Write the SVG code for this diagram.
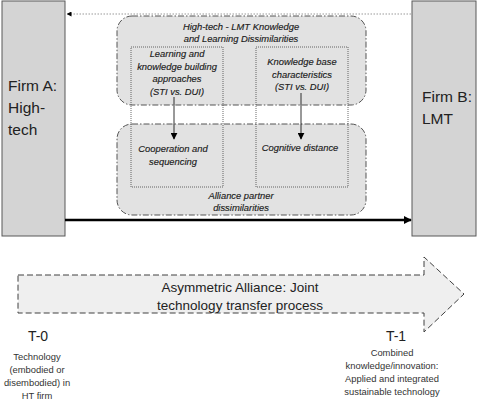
<svg xmlns="http://www.w3.org/2000/svg" width="478" height="400" viewBox="0 0 478 400">
<defs>
<marker id="ah" viewBox="0 0 10 10" refX="9" refY="5" markerWidth="5" markerHeight="5" orient="auto-start-reverse" markerUnits="userSpaceOnUse">
<path d="M0,0 L10,5 L0,10 z" fill="#000"/>
</marker>
<marker id="ahs" viewBox="0 0 10 10" refX="9" refY="5" markerWidth="7" markerHeight="7" orient="auto" markerUnits="userSpaceOnUse">
<path d="M0,0 L10,5 L0,10 z" fill="#000"/>
</marker>
<marker id="ahb" viewBox="0 0 10 10" refX="9" refY="5" markerWidth="3.2" markerHeight="3.2" orient="auto">
<path d="M0,0 L10,5 L0,10 z" fill="#000"/>
</marker>
</defs>
<style>
.firm{fill:#d4d4d4;stroke:#595959;stroke-width:1}
.firmt{font-family:"Liberation Sans",Arial,sans-serif;font-size:15.5px;fill:#222}
.rr{fill:#e2e2e2;stroke:#555;stroke-width:1;stroke-dasharray:6 2 1.5 2}
.inner{fill:none;stroke:#444;stroke-width:0.8;stroke-dasharray:1 1}
.it{font-family:"Liberation Sans",Arial,sans-serif;font-style:italic;font-size:9.4px;fill:#1a1a1a;stroke:#1a1a1a;stroke-width:0.15;text-anchor:middle}
.big{font-family:"Liberation Sans",Arial,sans-serif;font-size:13.5px;fill:#222;text-anchor:middle}
.sm{font-family:"Liberation Sans",Arial,sans-serif;font-size:9.4px;fill:#333;text-anchor:middle}
.tl{font-family:"Liberation Sans",Arial,sans-serif;font-size:14px;fill:#222;text-anchor:middle}
</style>

<g id="firmA">
<rect class="firm" x="2" y="1" width="63" height="235"/>
<text class="firmt" x="8" y="91">Firm A:</text>
<text class="firmt" x="8" y="113">High-</text>
<text class="firmt" x="8" y="135">tech</text>
</g>

<g id="firmB">
<rect class="firm" x="412" y="1" width="64" height="235"/>
<text class="firmt" x="422" y="102">Firm B:</text>
<text class="firmt" x="422" y="124">LMT</text>
</g>

<g id="knowledgeDissimilarities">
<rect class="rr" x="117" y="16" width="249" height="89" rx="15" ry="15"/>
<text class="it" x="241" y="30">High-tech - LMT Knowledge</text>
<text class="it" x="241" y="42">and Learning Dissimilarities</text>
</g>

<g id="alliancePartner">
<rect class="rr" x="117" y="124" width="249" height="91" rx="15" ry="15"/>
<text class="it" x="241" y="199">Alliance partner</text>
<text class="it" x="241" y="211">dissimilarities</text>
</g>

<g id="learningApproaches">
<rect class="inner" x="131" y="47" width="92" height="140"/>
<text class="it" x="177" y="57">Learning and</text>
<text class="it" x="177" y="69.5">knowledge building</text>
<text class="it" x="177" y="82">approaches</text>
<text class="it" x="177" y="94.5">(STI vs. DUI)</text>
<text class="it" x="173" y="152">Cooperation and</text>
<text class="it" x="173" y="165">sequencing</text>
</g>

<g id="knowledgeBase">
<rect class="inner" x="256" y="47" width="92" height="140"/>
<text class="it" x="302" y="65">Knowledge base</text>
<text class="it" x="302" y="77.5">characteristics</text>
<text class="it" x="302" y="90">(STI vs. DUI)</text>
<text class="it" x="300" y="151">Cognitive distance</text>
</g>

<g id="connectors">
<line x1="411" y1="14" x2="67" y2="14" stroke="#999" stroke-width="1" stroke-dasharray="1.5 1.5" marker-end="url(#ah)"/>
<line x1="65" y1="220" x2="411" y2="220" stroke="#000" stroke-width="2.5" marker-end="url(#ahb)"/>
<line x1="174" y1="97" x2="174" y2="139" stroke="#000" stroke-width="0.8" marker-end="url(#ahs)"/>
<line x1="301" y1="93" x2="301" y2="139" stroke="#000" stroke-width="0.8" marker-end="url(#ahs)"/>
</g>

<g id="process">
<path d="M18,275 L424,275 L424,257 L464,294 L424,332 L424,313 L18,313 Z" fill="#efefef" stroke="#404040" stroke-width="1" stroke-dasharray="6 3"/>
<text class="big" x="240" y="292">Asymmetric Alliance: Joint</text>
<text class="big" x="240" y="310">technology transfer process</text>
</g>

<g id="t0">
<text class="tl" x="38" y="341">T-0</text>
<text class="sm" x="37" y="360">Technology</text>
<text class="sm" x="37" y="373">(embodied or</text>
<text class="sm" x="37" y="386">disembodied) in</text>
<text class="sm" x="37" y="399">HT firm</text>
</g>

<g id="t1">
<text class="tl" x="396" y="341">T-1</text>
<text class="sm" x="392" y="356">Combined</text>
<text class="sm" x="392" y="369">knowledge/innovation:</text>
<text class="sm" x="392" y="382">Applied and integrated</text>
<text class="sm" x="392" y="395">sustainable technology</text>
</g>
</svg>
